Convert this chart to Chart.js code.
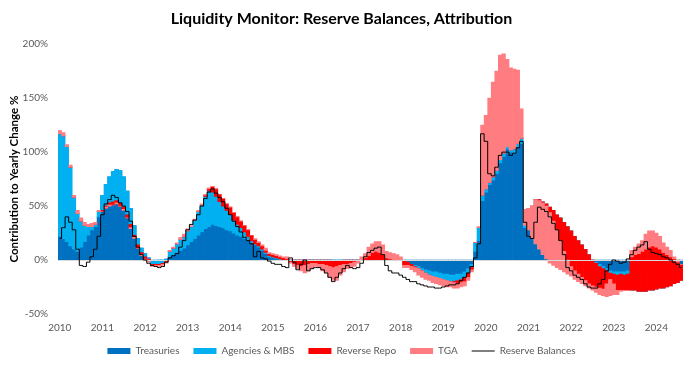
<!DOCTYPE html>
<html>
<head>
<meta charset="utf-8">
<script src="https://cdn.jsdelivr.net/npm/chart.js@4.4.1/dist/chart.umd.min.js"></script>
<style>
    html, body { margin: 0; padding: 0; background: #ffffff; }
</style>
</head>
<body>
<canvas id="LiquidityChart" width="692" height="366"></canvas>
<script>
// monthly points, Jan 2010 .. Aug 2024
const firstYear = 2010;
const monthCount = 176;

// contribution to yearly change of reserves, in %
const treasuries = [
    22, 20, 17, 13, 10, 8, 12, 17, 23, 28, 31, 40,            // 2010
    60, 70, 77, 82, 84, 83, 77, 64, 48, 32, 20, 11,           // 2011
    6, 2, -1, -1, 0, 0, 1, 3, 5, 7, 9, 11,                    // 2012
    14, 17, 20, 23, 26, 29, 31, 33, 32, 31, 30, 28,           // 2013
    27, 25, 23, 22, 20, 18, 16, 14, 12, 9, 6, 3,              // 2014
    2, 1, 0, 0, 0, 0, 0, 0, 0, 0, 0, 0,                       // 2015
    0, 0, 0, 0, 0, 0, 0, 0, 0, 0, 0, 0,                       // 2016
    0, 0, 0, 0, 0, 0, 0, 0, 0, 0, 0, 0,                       // 2017
    0, -1, -2, -4, -5, -6, -8, -9, -10, -11, -11, -12,        // 2018
    -13, -13, -14, -14, -13, -13, -11, -8, -4, 8, 18, 55,     // 2019
    63, 70, 74, 80, 90, 96, 103, 100, 99, 105, 108, 30,       // 2020
    28, 22, 17, 12, 8, 5, 3, 2, 2, 1, 1, 1,                   // 2021
    0, 0, 0, 0, 0, 0, 0, -2, -4, -6, -8, -10,                 // 2022
    -11, -11, -11, -11, -10, -10, -10, -10, -10, -10, -10, -10, // 2023
    -10, -10, -10, -9, -8, -7, -6, -5                         // 2024
];
const agencies = [
    95, 95, 88, 73, 48, 35, 24, 15, 8, 3, 2, 5,
    -14, -20, -24, -28, -29, -30, -28, -22, -15, -9, -6, -4,
    -3, -1, -3, -3, -4, -3, -2, 5, 6, 8, 10, 11,
    13, 14, 17, 22, 25, 30, 33, 30, 27, 23, 20, 18,
    15, 12, 10, 8, 6, 4, 2, 1, 1, 1, 1, 1,
    1, 1, 1, 0, 0, 0, 0, 0, 0, 0, 0, 0,
    0, 0, 0, 0, 0, -1, -1, -1, 0, 0, 0, 0,
    0, 0, 0, 0, 0, 0, 0, 0, 0, 0, 0, 0,
    0, 0, 0, 0, -1, -2, -2, -3, -4, -4, -5, -5,
    -5, -6, -6, -6, -6, -5, -5, -4, -3, 8, 12, 5,
    3, 2, 3, 3, 3, 3, 2, 2, 4, 3, 5, 17,
    20, 28, 39, 44, 46, 47, 46, 44, 40, 38, 34, 30,
    27, 22, 18, 14, 10, 5, 0, -1, -2, -2, -2, -2,
    -2, -3, -2, -3, -3, -18, -18, -19, -19, -19, -18, -18,
    -17, -16, -16, -16, -16, -15, -15, -14
];
const reverseRepo = [
    0, 0, 0, 0, 0, 0, 0, 0, 0, 0, 0, 0,
    -1, -2, -2, -3, -2, -3, -2, -3, -3, -2, -3, -2,
    -2, -1, -1, -1, -1, -1, -1, 0, 0, 0, 0, 0,
    0, 0, 0, 0, 0, 1, 2, 5, 7, 7, 7, 6,
    7, 7, 7, 6, 6, 6, 5, 4, 3, 3, 2, 2,
    2, 2, 2, 2, 1, -2, -4, -5, -6, -5, -4, -3,
    -3, -4, -4, -5, -6, -6, -5, -4, -4, -4, -3, -2,
    -1, 0, 2, 4, 7, 8, 7, 5, 2, 1, 0, 0,
    0, -4, -3, -2, -1, 0, 0, 0, 0, 0, 0, 0,
    0, 0, 0, -1, -3, -3, -4, -4, -2, 0, 0, 0,
    0, 0, 0, 0, 0, 0, 0, 0, 0, 0, 0, 0,
    0, 0, 0, -1, -1, -2, -5, -10, -14, -21, -27, -31,
    -33, -32, -31, -30, -29, -27, -24, -22, -20, -19, -12, -6,
    -9, -14, -15, -14, -15, 31, 33, 35, 37, 39, 40, 41,
    39, 36, 33, 30, 27, 23, 19, 15
];
const tga = [
    3, 3, 2, 2, 2, 3, 3, 3, 2, 3, 2, 1,
    0, 1, -1, 0, -1, 0, -1, 0, -1, -1, 0, -1,
    -1, -2, -1, -1, -1, -1, -1, 1, 1, 1, 2, 2,
    2, 1, 1, 1, 1, 1, 1, 0, 0, 0, 0, 0,
    0, 0, 0, 0, 0, 0, 0, 1, 1, 1, 2, 1,
    1, 1, 1, 1, 2, -1, -2, -3, -4, -7, -6, -5,
    -3, -3, -6, -7, -10, -12, -13, -9, -7, -4, -4, -4,
    -2, 3, 4, 8, 8, 9, 10, 9, 6, 6, 6, 5,
    3, -2, -2, -3, -4, -6, -6, -6, -5, -6, -6, -6,
    -6, -6, -5, -5, -4, -4, -4, -3, -2, 0, 1, 65,
    68, 78, 88, 92, 97, 92, 81, 76, 74, 68, 27, -15,
    -20, -30, -41, -45, -48, -49, -47, -41, -35, -27, -19, -13,
    -9, -8, -7, -6, -5, -4, -4, -5, -6, -6, -12, -15,
    -10, -4, -1, 0, 0, 6, 7, 9, 10, 14, 15, 14,
    13, 12, 9, 7, 6, 2, 2, 0
];
// yearly change of reserve balances, in %
const reserves = [
    20, 30, 40, 35, 28, 10, -5, -6, -2, 3, 10, 22,
    42, 52, 56, 60, 58, 53, 50, 45, 36, 22, 12, 5,
    0, -3, -5, -6, -7, -6, -2, 2, 4, 6, 12, 18,
    28, 33, 37, 42, 50, 57, 63, 66, 62, 58, 54, 48,
    42, 36, 31, 26, 21, 18, 15, 3, 8, 2, 1, -1,
    -3, -4, -4, -6, -7, 2, -2, -9, -4, 0, -10, -8,
    -7, -7, -9, -12, -16, -20, -16, -12, -8, -5, -7, -8,
    -7, -3, 3, 7, 9, 11, 12, 5, -5, -10, -12, -12,
    -14, -16, -18, -20, -20, -22, -23, -24, -25, -25, -26, -26,
    -25, -24, -23, -23, -22, -19, -16, -12, -6, 2, 15, 117,
    110, 80, 78, 86, 97, 100, 100, 97, 99, 104, 110, 35,
    22, 20, 35, 49, 47, 45, 40, 34, 28, 18, 5, -7,
    -10, -14, -16, -18, -22, -25, -26, -26, -22, -18, -10, -4,
    0, -1, -3, -2, 1, 5, 9, 12, 14, 17, 10, 7,
    6, 5, 3, 2, 0, -2, -4, -7
];

const seriesNames = ["Treasuries", "Agencies & MBS", "Reverse Repo", "TGA", "Reserve Balances"];
const seriesColors = ["#0070C0", "#00B0F0", "#FF0000", "#FF7C80", "#000000"];

// month labels, year shown on January
const labels = [];
for (let i = 0; i < monthCount; i++) {
    labels.push((firstYear + Math.floor(i / 12)) + "-" + String(i % 12 + 1).padStart(2, "0"));
}

// each component is drawn from the running total of the ones before it
const parts = [treasuries, agencies, reverseRepo, tga];
const running = new Array(monthCount).fill(0);
const barSets = parts.map((part, k) => {
    const spans = part.map((v, i) => {
        const start = running[i];
        running[i] = start + v;
        return [start, running[i]];
    });
    return {
        type: "bar",
        label: seriesNames[k],
        data: spans,
        backgroundColor: seriesColors[k],
        borderWidth: 0,
        barPercentage: 1,
        categoryPercentage: 1,
        order: 4 - k
    };
});

// horizontal axis line drawn over the bars, under the reserves line
const zeroAxis = {
    id: "zeroAxis",
    beforeDatasetDraw(chart, args) {
        if (args.index !== 4) return;
        const { ctx, chartArea } = chart;
        const y0 = Math.round(chart.scales.y.getPixelForValue(0)) + 0.5;
        ctx.save();
        ctx.strokeStyle = "#D9D9D9";
        ctx.lineWidth = 1;
        ctx.beginPath();
        ctx.moveTo(chartArea.left, y0);
        ctx.lineTo(chartArea.right, y0);
        ctx.stroke();
        ctx.restore();
    }
};

// keep the legend band short so the plot reaches down like the original
const legendBand = {
    id: "legendBand",
    beforeLayout(chart) {
        const lg = chart.legend;
        if (lg && !lg._bandSet) {
            lg.afterFit = function () { this.height = 31; };
            lg._bandSet = true;
        }
    }
};

const ctx = document.getElementById("LiquidityChart").getContext("2d");

new Chart(ctx, {
    data: {
        labels: labels,
        datasets: [
            ...barSets,
            {
                type: "line",
                label: seriesNames[4],
                data: reserves,
                borderColor: seriesColors[4],
                borderWidth: 1,
                pointRadius: 0,
                stepped: "middle",
                fill: false,
                order: 0
            }
        ]
    },
    options: {
        responsive: false,
        animation: false,
        devicePixelRatio: 1,
        layout: { padding: { left: 0, right: 9, top: 0, bottom: 0 } },
        plugins: {
            title: {
                display: true,
                text: "Liquidity Monitor: Reserve Balances, Attribution",
                color: "#000000",
                font: { family: "Lato", size: 16, weight: "bold" },
                padding: { top: 9, bottom: 16 }
            },
            legend: {
                position: "bottom",
                labels: {
                    usePointStyle: true,
                    pointStyleWidth: 23,
                    boxHeight: 6,
                    padding: 14,
                    color: "#595959",
                    font: { family: "Lato", size: 10 },
                    generateLabels: chart => chart.data.datasets.map((ds, i) => ({
                        text: ds.label,
                        fillStyle: ds.type === "line" ? "rgba(0,0,0,0)" : ds.backgroundColor,
                        strokeStyle: ds.type === "line" ? ds.borderColor : ds.backgroundColor,
                        lineWidth: ds.type === "line" ? 1 : 0,
                        pointStyle: ds.type === "line" ? "line" : "rect",
                        fontColor: "#595959",
                        hidden: false,
                        datasetIndex: i
                    }))
                }
            },
            tooltip: { enabled: false }
        },
        scales: {
            x: {
                stacked: true,
                grid: { display: false, drawTicks: false },
                border: { display: false },
                ticks: {
                    autoSkip: false,
                    maxRotation: 0,
                    padding: 8,
                    color: "#595959",
                    font: { family: "Lato", size: 10 },
                    callback: (v, i) => (i % 12 === 0 ? String(firstYear + i / 12) : "")
                },
                afterFit: scale => { scale.height = 18; }
            },
            y: {
                stacked: false,
                min: -50,
                max: 200,
                grid: { display: false, drawTicks: false },
                border: { display: false },
                ticks: {
                    stepSize: 50,
                    padding: 10,
                    color: "#595959",
                    font: { family: "Lato", size: 10 },
                    callback: v => v + "%"
                },
                title: {
                    display: true,
                    text: "Contribution to Yearly Change %",
                    color: "#000000",
                    font: { family: "Lato", size: 11.5, weight: "bold" },
                    padding: { top: 7, bottom: 0 }
                },
                afterFit: scale => { scale.width = 58; }
            }
        }
    },
    plugins: [zeroAxis, legendBand]
});
</script>
</body>
</html>
